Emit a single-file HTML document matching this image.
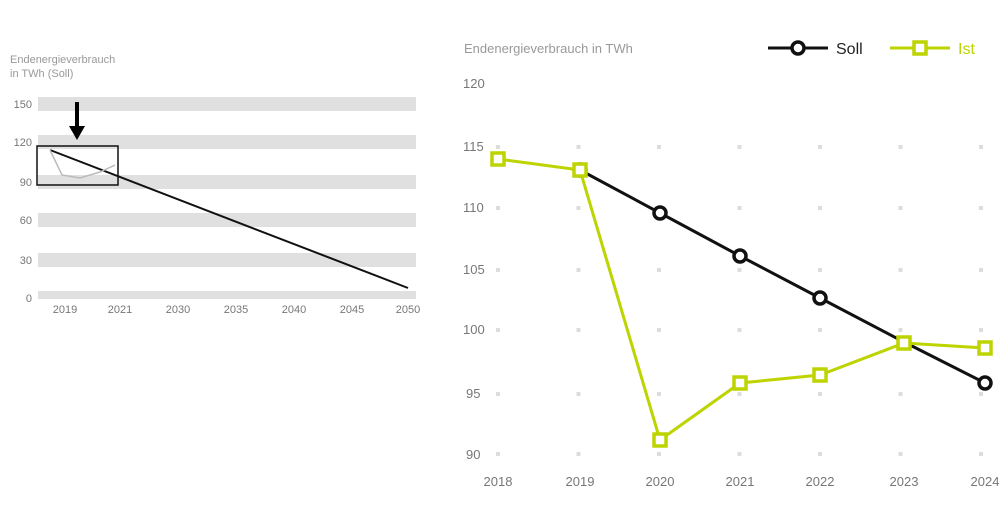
<!DOCTYPE html>
<html><head><meta charset="utf-8"><style>
body{margin:0;background:#fff;width:1002px;height:513px;overflow:hidden}
text{font-family:"Liberation Sans",sans-serif}
</style></head><body>
<svg width="1002" height="513" xmlns="http://www.w3.org/2000/svg">
<!-- left chart -->
<text x="10" y="63" font-size="11" fill="#999">Endenergieverbrauch</text>
<text x="10" y="77" font-size="11" fill="#999">in TWh (Soll)</text>
<g fill="#e0e0e0">
<rect x="38" y="97" width="378" height="14"/>
<rect x="38" y="135" width="378" height="14"/>
<rect x="38" y="175" width="378" height="14"/>
<rect x="38" y="213" width="378" height="14"/>
<rect x="38" y="253" width="378" height="14"/>
<rect x="38" y="291" width="378" height="8"/>
</g>
<g font-size="11" fill="#777" text-anchor="end">
<text x="32" y="108">150</text><text x="32" y="146">120</text><text x="32" y="186">90</text>
<text x="32" y="224">60</text><text x="32" y="264">30</text><text x="32" y="302">0</text>
</g>
<g font-size="11" fill="#777" text-anchor="middle">
<text x="65" y="313">2019</text><text x="120" y="313">2021</text><text x="178" y="313">2030</text>
<text x="236" y="313">2035</text><text x="294" y="313">2040</text><text x="352" y="313">2045</text><text x="408" y="313">2050</text>
</g>
<line x1="50" y1="150" x2="408" y2="288" stroke="#111" stroke-width="2"/>
<polyline points="50,150 62,175 80,178 100,172 115,165" fill="none" stroke="#bbb" stroke-width="1.5"/>
<rect x="37" y="146" width="81" height="39" fill="none" stroke="#111" stroke-width="1.5"/>
<line x1="77" y1="102" x2="77" y2="128" stroke="#000" stroke-width="4"/>
<polygon points="69,126 85,126 77,140" fill="#000"/>
<!-- right chart -->
<text x="464" y="53" font-size="13" fill="#999">Endenergieverbrauch in TWh</text>
<line x1="768" y1="48" x2="828" y2="48" stroke="#111" stroke-width="3"/>
<circle cx="798" cy="48" r="6" fill="#fff" stroke="#111" stroke-width="3.5"/>
<text x="836" y="54" font-size="16" fill="#222">Soll</text>
<line x1="890" y1="48" x2="950" y2="48" stroke="#bdd400" stroke-width="3"/>
<rect x="914" y="42" width="12" height="12" fill="#fff" stroke="#bdd400" stroke-width="3.5"/>
<text x="958" y="54" font-size="16" fill="#bdd400">Ist</text>
<g font-size="13" fill="#777">
<text x="463" y="88">120</text><text x="463" y="151">115</text><text x="463" y="212">110</text>
<text x="463" y="274">105</text><text x="463" y="334">100</text><text x="466" y="398">95</text><text x="466" y="459">90</text>
</g>
<g stroke="#ddd" stroke-width="4" stroke-dasharray="4 76.5">
<line x1="496" y1="147" x2="1000" y2="147"/><line x1="496" y1="208" x2="1000" y2="208"/>
<line x1="496" y1="270" x2="1000" y2="270"/><line x1="496" y1="330" x2="1000" y2="330"/>
<line x1="496" y1="394" x2="1000" y2="394"/><line x1="496" y1="454" x2="1000" y2="454"/>
</g>
<g font-size="13" fill="#777" text-anchor="middle">
<text x="498" y="486">2018</text><text x="580" y="486">2019</text><text x="660" y="486">2020</text>
<text x="740" y="486">2021</text><text x="820" y="486">2022</text><text x="904" y="486">2023</text><text x="985" y="486">2024</text>
</g>
<polyline points="580,170 660,213 740,256 820,298 904,342 985,383" fill="none" stroke="#111" stroke-width="3"/>
<g fill="#fff" stroke="#111" stroke-width="3.5">
<circle cx="580" cy="170" r="6"/><circle cx="660" cy="213" r="6"/><circle cx="740" cy="256" r="6"/>
<circle cx="820" cy="298" r="6"/><circle cx="985" cy="383" r="6"/>
</g>
<polyline points="498,159 580,170 660,440 740,383 820,375 904,343 985,348" fill="none" stroke="#bdd400" stroke-width="3"/>
<g fill="#fff" stroke="#bdd400" stroke-width="3.5">
<rect x="492" y="153" width="12" height="12"/><rect x="574" y="164" width="12" height="12"/>
<rect x="654" y="434" width="12" height="12"/><rect x="734" y="377" width="12" height="12"/>
<rect x="814" y="369" width="12" height="12"/><rect x="898" y="337" width="12" height="12"/>
<rect x="979" y="342" width="12" height="12"/>
</g>
</svg>
</body></html>
